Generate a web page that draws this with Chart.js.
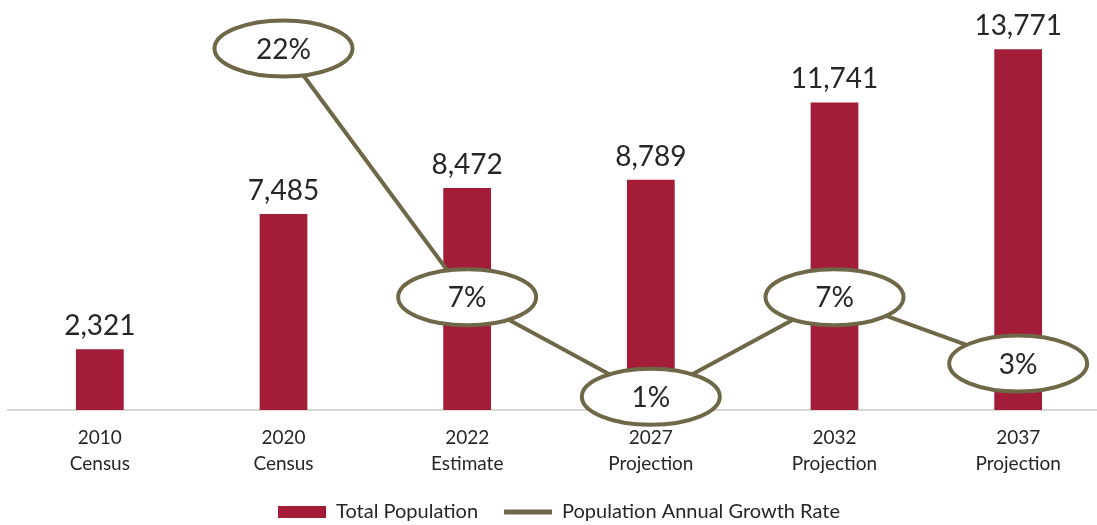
<!DOCTYPE html>
<html lang="en">
<head>
    <meta charset="UTF-8">
    <title>Population Growth</title>
    <script src="https://cdn.jsdelivr.net/npm/chart.js"></script>
    <style>
        html, body { margin: 0; padding: 0; background: #fff; overflow: hidden; }
        #wrap { width: 1110px; height: 525px; }
    </style>
</head>
<body>
    <div id="wrap">
        <canvas id="popChart"></canvas>
    </div>
    <script>
        const categories = [
            ['2010', 'Census'],
            ['2020', 'Census'],
            ['2022', 'Estimate'],
            ['2027', 'Projection'],
            ['2032', 'Projection'],
            ['2037', 'Projection']
        ];
        const totalPopulation = [2321, 7485, 8472, 8789, 11741, 13771];
        // no growth figure for the first census
        const growthRate = [null, 22, 7, 1, 7, 3];

        const BAR_COLOR = '#A31C38';
        const LINE_COLOR = '#6E6848';
        const TEXT_COLOR = '#262626';
        const FONT = "'Source Sans Pro', Lato, 'Noto Sans', sans-serif";

        // value labels above bars, plus the ringed growth labels on the line
        const labelPlugin = {
            id: 'valueLabels',
            afterDatasetsDraw(chart) {
                const ctx = chart.ctx;
                ctx.save();
                ctx.fillStyle = TEXT_COLOR;
                ctx.font = '28px ' + FONT;
                ctx.textAlign = 'center';
                ctx.textBaseline = 'alphabetic';
                chart.getDatasetMeta(0).data.forEach((bar, i) => {
                    ctx.fillText(totalPopulation[i].toLocaleString('en-US'), bar.x, bar.y - 14);
                });

                chart.getDatasetMeta(1).data.forEach((pt, i) => {
                    if (growthRate[i] === null) return;
                    ctx.beginPath();
                    ctx.ellipse(pt.x, pt.y, 69, 28, 0, 0, Math.PI * 2);
                    ctx.fillStyle = '#fff';
                    ctx.fill();
                    ctx.lineWidth = 4;
                    ctx.strokeStyle = LINE_COLOR;
                    ctx.stroke();
                    ctx.fillStyle = TEXT_COLOR;
                    ctx.textBaseline = 'middle';
                    ctx.fillText(growthRate[i] + '%', pt.x, pt.y + 1);
                });
                ctx.restore();
            }
        };

        const config = {
            type: 'bar',
            data: {
                labels: categories,
                datasets: [
                    {
                        label: 'Total Population',
                        data: totalPopulation,
                        backgroundColor: BAR_COLOR,
                        barPercentage: 0.52,
                        categoryPercentage: 0.5,
                        yAxisID: 'y',
                        order: 2
                    },
                    {
                        type: 'line',
                        label: 'Population Annual Growth Rate',
                        data: growthRate,
                        borderColor: LINE_COLOR,
                        backgroundColor: LINE_COLOR,
                        borderWidth: 4,
                        pointRadius: 0,
                        spanGaps: false,
                        yAxisID: 'y1',
                        order: 1
                    }
                ]
            },
            options: {
                responsive: true,
                maintainAspectRatio: false,
                animation: false,
                layout: {
                    padding: { top: 17, left: 8, right: 0, bottom: -7 }
                },
                plugins: {
                    tooltip: { enabled: false },
                    legend: {
                        position: 'bottom',
                        labels: {
                            color: TEXT_COLOR,
                            font: { family: FONT, size: 20 },
                            usePointStyle: true,
                            pointStyleWidth: 48,
                            boxHeight: 12,
                            padding: 26,
                            sort: (a, b) => a.datasetIndex - b.datasetIndex,
                            generateLabels(chart) {
                                const items = Chart.defaults.plugins.legend.labels.generateLabels(chart);
                                items.forEach(item => {
                                    if (item.datasetIndex === 0) {
                                        item.pointStyle = 'rect';
                                        item.lineWidth = 0;
                                    } else {
                                        item.pointStyle = 'line';
                                        item.lineWidth = 5;
                                        item.strokeStyle = LINE_COLOR;
                                    }
                                });
                                return items;
                            }
                        }
                    }
                },
                scales: {
                    x: {
                        grid: { display: false, drawTicks: false },
                        border: { color: '#D9D9D4', width: 2 },
                        ticks: {
                            color: TEXT_COLOR,
                            font: { family: FONT, size: 19, lineHeight: 1.38 },
                            padding: 15,
                            maxRotation: 0,
                            autoSkip: false
                        },
                        // fixed height keeps the plot bottom at the same place
                        afterFit(scale) { scale.height = 66; }
                    },
                    y: {
                        display: false,
                        min: 0,
                        max: 15000
                    },
                    y1: {
                        display: false,
                        min: 0.2,
                        max: 23.9
                    }
                }
            },
            plugins: [labelPlugin]
        };

        new Chart(document.getElementById('popChart'), config);
    </script>
</body>
</html>
